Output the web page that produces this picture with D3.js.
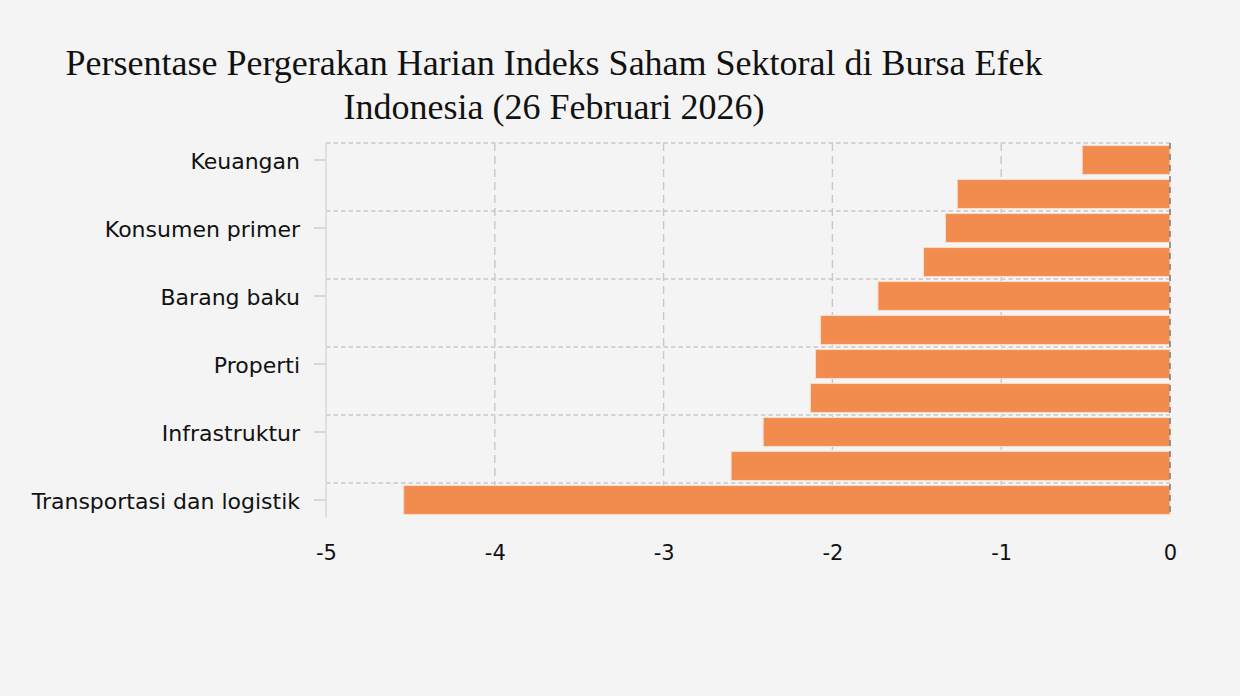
<!DOCTYPE html>
<html>
<head>
<meta charset="utf-8">
<script src="https://cdn.jsdelivr.net/npm/d3@7"></script>
<style>
  body { margin: 0; background: #f4f4f4; }
  svg { display: block; }
</style>
</head>
<body>
<svg id="chart" width="1240" height="696"></svg>
<script>
// Données : sektor (urutan dari atas) dan perubahan harian (%)
const sektor = [
  "Keuangan", "Teknologi", "Konsumen primer", "Kesehatan", "Barang baku",
  "Industri", "Properti", "Energi", "Infrastruktur", "Konsumen non-primer",
  "Transportasi dan logistik"
];
const perubahan = [-0.52, -1.26, -1.33, -1.46, -1.73, -2.07, -2.1, -2.13, -2.41, -2.6, -4.54];
const xTicks = [-5, -4, -3, -2, -1, 0];
const judul = [
  "Persentase Pergerakan Harian Indeks Saham Sektoral di Bursa Efek",
  "Indonesia (26 Februari 2026)"
];

const svg = d3.select("#chart");
const margin = { top: 143, right: 70, bottom: 179, left: 326 };
const width = 1240 - margin.left - margin.right;
const height = 696 - margin.top - margin.bottom;

const data = sektor.map((s, i) => ({ sektor: s, nilai: perubahan[i] }));

const x = d3.scaleLinear().domain([-5, 0]).range([0, width]);
const y = d3.scaleBand().domain(sektor).range([0, height]).paddingInner(0.15).paddingOuter(0.075);

// Judul
svg.append("g")
  .selectAll("text")
  .data(judul)
  .enter()
  .append("text")
  .attr("x", 554)
  .attr("y", (d, i) => 75 + i * 44)
  .attr("text-anchor", "middle")
  .style("font-family", "'Liberation Serif', 'Times New Roman', serif")
  .style("font-size", "36px")
  .style("fill", "#111")
  .text((d) => d);

const g = svg.append("g").attr("transform", `translate(${margin.left},${margin.top})`);

// Grille verticale
g.selectAll("line.vgrid")
  .data(xTicks.filter((t) => t !== -5 && t !== 0))
  .enter()
  .append("line")
  .attr("class", "vgrid")
  .attr("x1", (d) => x(d))
  .attr("x2", (d) => x(d))
  .attr("y1", 0)
  .attr("y2", height)
  .style("stroke", "#c8c8c8")
  .style("stroke-width", 1.4)
  .style("stroke-dasharray", "8,5");

// Grille horizontale (une catégorie sur deux)
const labeled = sektor.filter((s, i) => i % 2 === 0);
const gap = (y.step() * y.paddingInner()) / 2;
g.selectAll("line.hgrid")
  .data(labeled)
  .enter()
  .append("line")
  .attr("class", "hgrid")
  .attr("x1", 0)
  .attr("x2", width)
  .attr("y1", (d) => y(d) - gap)
  .attr("y2", (d) => y(d) - gap)
  .style("stroke", "#c8c8c8")
  .style("stroke-width", 1.4)
  .style("stroke-dasharray", "4.5,3");

// Barres
g.selectAll("rect.bar")
  .data(data)
  .enter()
  .append("rect")
  .attr("class", "bar")
  .attr("x", (d) => x(d.nilai))
  .attr("y", (d) => y(d.sektor))
  .attr("width", (d) => x(0) - x(d.nilai))
  .attr("height", y.bandwidth())
  .style("fill", "#f28c4e")
  .style("stroke", "#f9dcc8")
  .style("stroke-width", 1);

// Ligne du zéro
g.append("line")
  .attr("x1", x(0))
  .attr("x2", x(0))
  .attr("y1", 0)
  .attr("y2", height)
  .style("stroke", "#777777")
  .style("stroke-width", 1.5)
  .style("stroke-dasharray", "6,5");

// Axe Y
const yAxis = d3.axisLeft(y)
  .tickValues(labeled)
  .tickSize(12)
  .tickPadding(14);
const ya = g.append("g").call(yAxis);
ya.select(".domain")
  .attr("d", `M0,0V${height}`)
  .style("stroke", "#d8d8d8")
  .style("stroke-width", 1.5);
ya.selectAll(".tick line").style("stroke", "#d8d8d8").style("stroke-width", 2);
ya.selectAll(".tick text")
  .attr("dy", "0.4em")
  .style("font-family", "'DejaVu Sans', Verdana, sans-serif")
  .style("font-size", "22px")
  .style("fill", "#111");

// Axe X
const xAxis = d3.axisBottom(x).tickValues(xTicks).tickSize(0).tickPadding(28).tickFormat(d3.format("d"));
const xa = g.append("g").attr("transform", `translate(0,${height})`).call(xAxis);
xa.select(".domain").remove();
xa.selectAll(".tick text")
  .text((d) => String(d))
  .style("font-family", "'DejaVu Sans', Verdana, sans-serif")
  .style("font-size", "21px")
  .style("fill", "#111");
</script>
</body>
</html>
